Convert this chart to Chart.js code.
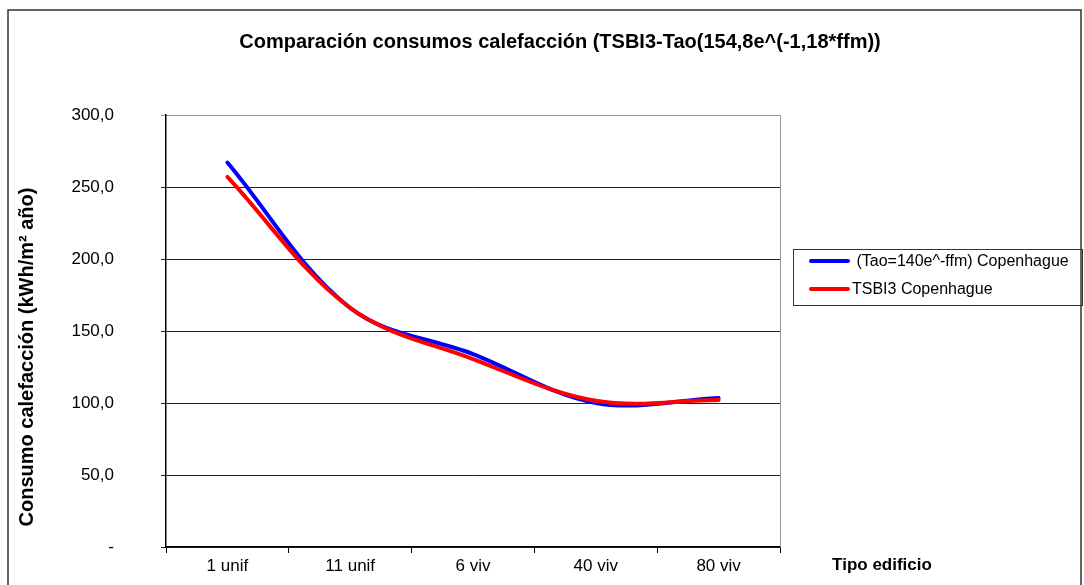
<!DOCTYPE html>
<html>
<head>
<meta charset="utf-8">
<script src="https://cdn.jsdelivr.net/npm/chart.js@4"></script>
<style>
  html, body { margin: 0; padding: 0; background: #fff; }
  #wrap { width: 1084px; height: 585px; }
</style>
</head>
<body>
<div id="wrap"><canvas id="chart" width="1084" height="585"></canvas></div>
<script>
// ─── DATA ─────────────────────────────────────────────────────
const categories = ["1 unif", "11 unif", "6 viv", "40 viv", "80 viv"];
const taoValues  = [267, 166, 134, 100, 103.5];
const tsbiValues = [257, 166, 130.5, 101.5, 102];
const yTicks     = [0, 50, 100, 150, 200, 250, 300];

const chartTitle = "Comparación consumos calefacción (TSBI3-Tao(154,8e^(-1,18*ffm))";
const yTitle     = "Consumo calefacción (kWh/m² año)";
const xTitle     = "Tipo edificio";

const FONT = "'Liberation Sans', Arial, sans-serif";

// ─── EXTRA DRAWING (frame, titles, legend) ────────────────────
const decorations = {
    id: "decorations",
    afterDraw(chart) {
        const ctx = chart.ctx;
        const area = chart.chartArea;
        ctx.save();

        // outer frame
        ctx.strokeStyle = "#333";
        ctx.lineWidth = 1.5;
        ctx.strokeRect(8, 10, 1073, 600);

        // right edge of plot area
        ctx.strokeStyle = "#999";
        ctx.lineWidth = 1;
        ctx.beginPath();
        ctx.moveTo(Math.round(area.right) + 0.5, area.top);
        ctx.lineTo(Math.round(area.right) + 0.5, area.bottom);
        ctx.stroke();

        // chart title
        ctx.fillStyle = "#000";
        ctx.font = "bold 20px " + FONT;
        ctx.textAlign = "center";
        ctx.textBaseline = "middle";
        ctx.fillText(chartTitle, 560, 42);

        // y axis title
        ctx.save();
        ctx.translate(27, 357);
        ctx.rotate(-Math.PI / 2);
        ctx.font = "bold 20px " + FONT;
        ctx.fillText(yTitle, 0, 0);
        ctx.restore();

        // x axis title
        ctx.font = "bold 17px " + FONT;
        ctx.fillText(xTitle, 882, 565);

        // legend
        ctx.strokeStyle = "#333";
        ctx.lineWidth = 1;
        ctx.strokeRect(793.5, 249.5, 289, 56);
        ctx.font = "16px " + FONT;
        ctx.textAlign = "left";
        const rows = [261, 289];
        chart.data.datasets.forEach((ds, i) => {
            ctx.strokeStyle = ds.borderColor;
            ctx.lineWidth = 4;
            ctx.lineCap = "round";
            ctx.beginPath();
            ctx.moveTo(811, rows[i]);
            ctx.lineTo(848, rows[i]);
            ctx.stroke();
            ctx.fillStyle = "#000";
            ctx.fillText(ds.label, 852, rows[i] + 1);
        });

        ctx.restore();
    }
};

// ─── CHART ────────────────────────────────────────────────────
const ctx = document.getElementById("chart").getContext("2d");
new Chart(ctx, {
    type: "line",
    data: {
        labels: categories,
        datasets: [
            {
                label: " (Tao=140e^-ffm) Copenhague",
                data: taoValues,
                borderColor: "#0000ff",
                borderWidth: 4,
                borderCapStyle: "round",
                pointRadius: 0,
                tension: 0.35,
                order: 1
            },
            {
                label: "TSBI3 Copenhague",
                data: tsbiValues,
                borderColor: "#ff0000",
                borderWidth: 4,
                borderCapStyle: "round",
                pointRadius: 0,
                tension: 0.35,
                order: 0
            }
        ]
    },
    options: {
        responsive: false,
        animation: false,
        layout: { padding: { left: 8, right: 304, top: 115, bottom: 0 } },
        plugins: {
            legend: { display: false },
            title: { display: false },
            tooltip: { enabled: false }
        },
        scales: {
            x: {
                type: "category",
                offset: true,
                afterFit(scale) { scale.height = 38; },
                grid: {
                    offset: true,
                    drawOnChartArea: false,
                    tickLength: 6,
                    color: "#000"
                },
                border: { color: "#000", width: 1.5 },
                ticks: {
                    color: "#000",
                    padding: 3,
                    maxRotation: 0,
                    font: { family: FONT, size: 17 }
                }
            },
            y: {
                min: 0,
                max: 300,
                afterFit(scale) {
                    // fixed axis width; the big label gap must not eat vertical space
                    scale.width = 158;
                    scale.paddingTop = 0;
                    scale.paddingBottom = 0;
                },
                afterBuildTicks(scale) {
                    scale.ticks = yTicks.map(v => ({ value: v }));
                },
                grid: {
                    tickLength: 5,
                    color: c => (c.tick && c.tick.value === 300) ? "#999" : "#222"
                },
                border: { color: "#000", width: 1.5 },
                ticks: {
                    color: "#000",
                    padding: 47,
                    font: { family: FONT, size: 17 },
                    callback: v => v === 0 ? "-" : v.toFixed(1).replace(".", ",")
                }
            }
        }
    },
    plugins: [decorations]
});
</script>
</body>
</html>
